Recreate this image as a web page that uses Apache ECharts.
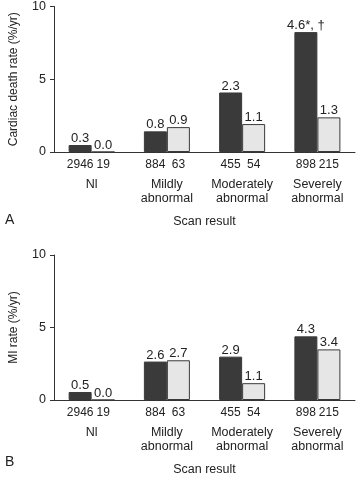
<!DOCTYPE html>
<html><head><meta charset="utf-8">
<script src="https://cdn.jsdelivr.net/npm/echarts@6/dist/echarts.min.js"></script>
<style>html,body{margin:0;padding:0;background:#fff}#c{width:356px;height:477px}</style>
</head><body><div id="c"></div>
<script>
var categories = ['Nl', 'Mildly abnormal', 'Moderately abnormal', 'Severely abnormal'];
var nFirst = [2946, 884, 455, 898];
var nSecond = [19, 63, 54, 215];
var yTicks = [0, 5, 10];

var cardiacDark = [0.48, 1.42, 4.09, 8.24];
var cardiacLight = [0, 1.71, 1.92, 2.38];
var cardiacDarkLabels = ['0.3', '0.8', '2.3', '4.6*, \u2020'];
var cardiacLightLabels = ['0.0', '0.9', '1.1', '1.3'];

var miDark = [0.55, 2.65, 2.99, 4.39];
var miLight = [0, 2.74, 1.16, 3.49];
var miDarkLabels = ['0.5', '2.6', '2.9', '4.3'];
var miLightLabels = ['0.0', '2.7', '1.1', '3.4'];

var FONT = 'Liberation Sans, Arial, sans-serif';
var TXT = '#222';

function catFormatter(v, i) {
  var parts = v.split(' ');
  var s = '{n|' + nFirst[i] + '}{m|' + nSecond[i] + '}\n{c|' + parts[0] + '}';
  if (parts.length > 1) s += '\n{d|' + parts.slice(1).join(' ') + '}';
  return s;
}

function xAxis(gi) {
  return {
    type: 'category', gridIndex: gi, data: categories,
    name: 'Scan result', nameLocation: 'middle', nameGap: 63,
    nameTextStyle: {fontFamily: FONT, fontSize: 12.5, color: TXT},
    axisLine: {lineStyle: {color: '#333', width: 1}},
    axisTick: {length: 4, lineStyle: {color: '#333'}},
    axisLabel: {
      margin: 2, interval: 0, formatter: catFormatter, color: TXT,
      fontFamily: FONT, fontSize: 12,
      rich: {
        n: {fontFamily: FONT, fontSize: 12, color: TXT, lineHeight: 22, width: 23, align: 'center'},
        m: {fontFamily: FONT, fontSize: 12, color: TXT, lineHeight: 22, width: 23, align: 'center'},
        c: {fontFamily: FONT, fontSize: 12.5, color: TXT, lineHeight: 18},
        d: {fontFamily: FONT, fontSize: 12.5, color: TXT, lineHeight: 10}
      }
    }
  };
}

function yAxis(gi, name) {
  return {
    type: 'value', gridIndex: gi, min: yTicks[0], max: yTicks[yTicks.length - 1], interval: yTicks[1] - yTicks[0],
    name: name, nameLocation: 'middle', nameGap: 34,
    nameTextStyle: {fontFamily: FONT, fontSize: 12, color: TXT},
    axisLine: {show: true, lineStyle: {color: '#333', width: 1}},
    axisTick: {show: true, length: 4, lineStyle: {color: '#333'}},
    axisLabel: {fontFamily: FONT, fontSize: 12.5, color: TXT, margin: 8},
    splitLine: {show: false}
  };
}

function bar(gi, data, labels, color) {
  return {
    type: 'bar', xAxisIndex: gi, yAxisIndex: gi, data: data,
    barWidth: 23, barGap: '0%',
    itemStyle: {color: color, borderColor: '#3a3a3a', borderWidth: 1},
    label: {
      show: true, position: 'top', distance: 0,
      fontFamily: FONT, fontSize: 13, color: TXT,
      formatter: function (p) { return labels[p.dataIndex]; }
    },
    silent: true
  };
}

var chart = echarts.init(document.getElementById('c'), null, {renderer: 'canvas'});
chart.setOption({
  animation: false,
  backgroundColor: '#fff',
  title: [
    {text: 'A', left: 0, top: 208, textStyle: {fontFamily: FONT, fontSize: 14, fontWeight: 'normal', color: TXT}},
    {text: 'B', left: 0, top: 450, textStyle: {fontFamily: FONT, fontSize: 14, fontWeight: 'normal', color: TXT}}
  ],
  grid: [
    {left: 43, right: 1, top: 6, height: 146},
    {left: 43, right: 1, top: 255, height: 147}
  ],
  xAxis: [xAxis(0), xAxis(1)],
  yAxis: [yAxis(0, 'Cardiac death rate (%/yr)'), yAxis(1, 'MI rate (%/yr)')],
  series: [
    bar(0, cardiacDark, cardiacDarkLabels, '#3a3a3a'),
    bar(0, cardiacLight, cardiacLightLabels, '#e6e6e6'),
    bar(1, miDark, miDarkLabels, '#3a3a3a'),
    bar(1, miLight, miLightLabels, '#e6e6e6')
  ]
});
</script></body></html>
